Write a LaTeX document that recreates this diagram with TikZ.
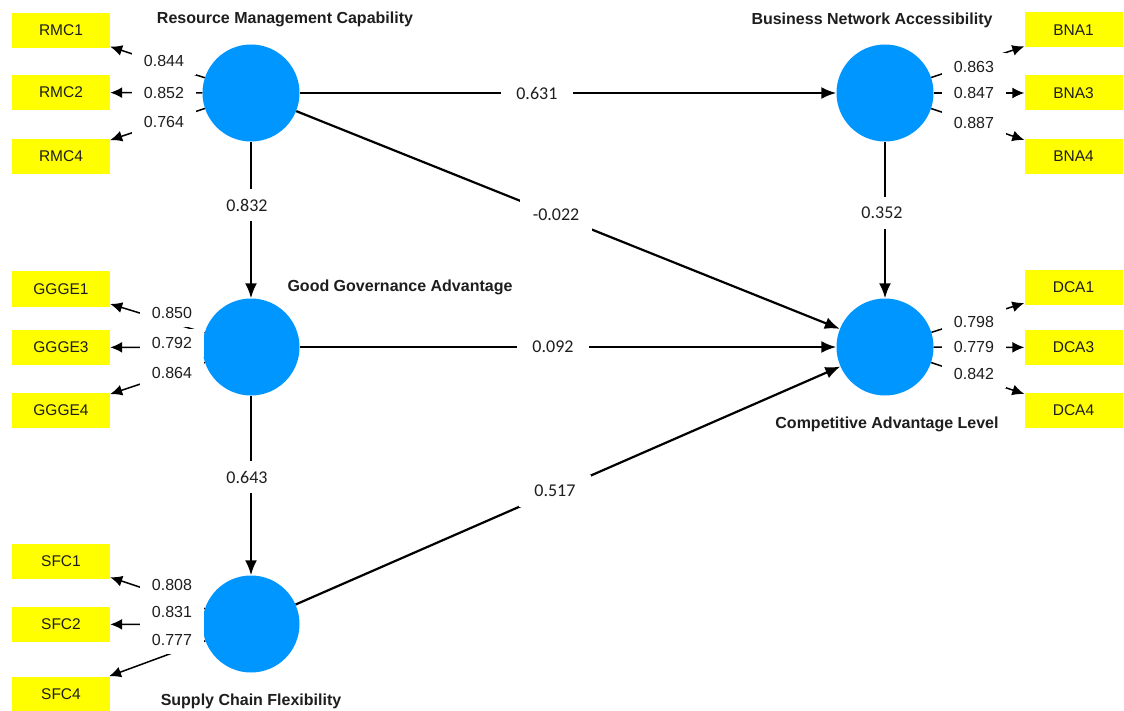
\documentclass[tikz,border=0pt]{standalone}
\usepackage{fontspec}
\setmainfont{Liberation Sans}
\newfontfamily\pathfont{Carlito}
\usetikzlibrary{arrows.meta}
\definecolor{lvblue}{RGB}{0,150,255}
\definecolor{indyellow}{RGB}{255,255,0}
\definecolor{txt}{RGB}{30,30,30}
\begin{document}
\begin{tikzpicture}[x=1pt,y=-1pt,
  lv/.style={circle,fill=lvblue,minimum size=97pt,inner sep=0pt},
  ind/.style={fill=indyellow,minimum width=98pt,minimum height=35pt,inner sep=0pt,font=\fontsize{15.5}{18}\selectfont,text=txt},
  ttl/.style={font=\fontsize{16}{18}\selectfont\bfseries,text=txt},
  load/.style={line width=1.5pt,-{Latex[length=12pt,width=11pt]}},
  loadlbl/.style={fill=white,minimum width=64pt,minimum height=28pt,inner sep=0pt,font=\fontsize{16}{18}\selectfont,text=txt},
  structarrow/.style={line width=2.2pt,-{Latex[length=15pt,width=12pt]}},
  plbl/.style={fill=white,minimum width=72pt,minimum height=32pt,inner sep=0pt,font=\pathfont\fontsize{18}{20}\selectfont,text=txt},
]
\fill[white] (0,0) rectangle (1124,711);
\useasboundingbox (0,0) rectangle (1124,711);

% latent variables
\node[lv] (RMC) at (251,93) {};
\node[lv] (BNA) at (885,93) {};
\node[lv] (GGA) at (251,347) {};
\node[lv] (CAL) at (885,347) {};
\node[lv] (SFC) at (251,624) {};

% indicators
\node[ind] (RMC1) at (61,30.5) {RMC1};
\node[ind] (RMC2) at (61,92.5) {RMC2};
\node[ind] (RMC4) at (61,156.5) {RMC4};
\node[ind] (GGGE1) at (61,289) {GGGE1};
\node[ind] (GGGE3) at (61,347.5) {GGGE3};
\node[ind] (GGGE4) at (61,410.5) {GGGE4};
\node[ind] (SFC1) at (61,561) {SFC1};
\node[ind] (SFC2) at (61,624.5) {SFC2};
\node[ind] (SFC4) at (61,694) {SFC4};
\node[ind] (BNA1) at (1073.5,30) {BNA1};
\node[ind] (BNA3) at (1073.5,93) {BNA3};
\node[ind] (BNA4) at (1073.5,156.5) {BNA4};
\node[ind] (DCA1) at (1073.5,287.5) {DCA1};
\node[ind] (DCA3) at (1073.5,347.5) {DCA3};
\node[ind] (DCA4) at (1073.5,410.5) {DCA4};

% loadings lines
\draw[load] (RMC) -- (RMC1);
\draw[load] (RMC) -- (RMC2);
\draw[load] (RMC) -- (RMC4);
\draw[load] (GGA) -- (GGGE1);
\draw[load] (GGA) -- (GGGE3);
\draw[load] (GGA) -- (GGGE4);
\draw[load] (SFC) -- (SFC1);
\draw[load] (SFC) -- (SFC2);
\draw[load] (SFC) -- (SFC4);
\draw[load] (BNA) -- (BNA1);
\draw[load] (BNA) -- (BNA3);
\draw[load] (BNA) -- (BNA4);
\draw[load] (CAL) -- (DCA1);
\draw[load] (CAL) -- (DCA3);
\draw[load] (CAL) -- (DCA4);

% loading labels
\node[loadlbl] (lRMC1) at (164,61) {0.844};
\node[loadlbl] (lRMC2) at (164,93) {0.852};
\node[loadlbl] (lRMC4) at (164,122) {0.764};
\node[loadlbl] (lGGGE1) at (172,313) {0.850};
\node[loadlbl] (lGGGE3) at (172,343) {0.792};
\node[loadlbl] (lGGGE4) at (172,373) {0.864};
\node[loadlbl] (lSFC1) at (172,585) {0.808};
\node[loadlbl] (lSFC2) at (172,612) {0.831};
\node[loadlbl] (lSFC4) at (172,640) {0.777};
\node[loadlbl] (lBNA1) at (974,67) {0.863};
\node[loadlbl] (lBNA3) at (974,93) {0.847};
\node[loadlbl] (lBNA4) at (974,123) {0.887};
\node[loadlbl] (lDCA1) at (974,322) {0.798};
\node[loadlbl] (lDCA3) at (974,347) {0.779};
\node[loadlbl] (lDCA4) at (974,374) {0.842};

% structural paths
\draw[structarrow] (RMC) -- node[plbl,pos=0.442] (p1) {0.631} (BNA);
\draw[structarrow] (RMC) -- node[plbl,pos=0.478] (p2) {-0.022} (CAL);
\draw[structarrow] (GGA) -- node[plbl,pos=0.472] (p3) {0.092} (CAL);
\draw[structarrow] (SFC) -- node[plbl,pos=0.476] (p4) {0.517} (CAL);
\draw[structarrow] (RMC) -- node[plbl,pos=0.404,xshift=-4pt] (p5) {0.832} (GGA);
\draw[structarrow] (GGA) -- node[plbl,pos=0.453,xshift=-4pt] (p6) {0.643} (SFC);
\draw[structarrow] (BNA) -- node[plbl,pos=0.455,xshift=-3pt] (p7) {0.352} (CAL);

% titles
\node[ttl] (tRMC) at (285,19) {Resource Management Capability};
\node[ttl] (tBNA) at (872,20) {Business Network Accessibility};
\node[ttl] (tGGA) at (400,287) {Good Governance Advantage};
\node[ttl] (tCAL) at (887,424) {Competitive Advantage Level};
\node[ttl] (tSFC) at (251,701) {Supply Chain Flexibility};
\end{tikzpicture}
\end{document}
